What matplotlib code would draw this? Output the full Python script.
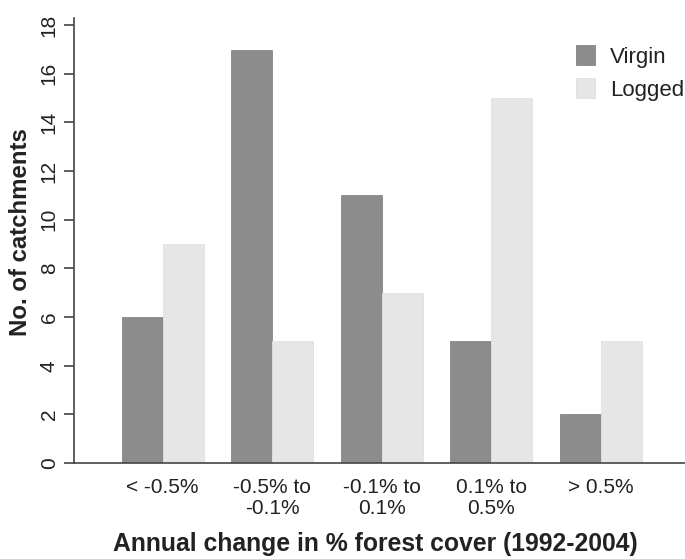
import matplotlib.pyplot as plt
import numpy as np

categories = ["< -0.5%", "-0.5% to\n-0.1%", "-0.1% to\n0.1%", "0.1% to\n0.5%", "> 0.5%"]
virgin = [6, 17, 11, 5, 2]
logged = [9, 5, 7, 15, 5]
y_ticks = [0, 2, 4, 6, 8, 10, 12, 14, 16, 18]

plt.rcParams["font.family"] = ["Liberation Sans", "DejaVu Sans"]
text_color = "#222222"

fig = plt.figure(figsize=(6.85, 5.59), dpi=100)
ax = fig.add_axes([0.108, 0.1717, 0.892, 0.7963])

x = np.arange(len(categories))
width = 0.375
ax.bar(x - width / 2, virgin, width, color="#8c8c8c", edgecolor="#858585", linewidth=0.6, label="Virgin")
ax.bar(x + width / 2, logged, width, color="#e6e6e6", edgecolor="#e0e0e0", linewidth=0.6, label="Logged")

ax.set_xlim(-0.81, 4.77)
ax.set_ylim(0, 18.3)
ax.set_yticks(y_ticks)
ax.set_xticks(x)
ax.set_xticklabels(categories, fontsize=15, color=text_color, linespacing=1.12)
ax.tick_params(axis="x", length=0, pad=11)
ax.tick_params(axis="y", length=7, width=1.2, color="#444444", labelsize=15,
               labelcolor=text_color, pad=4)
plt.setp(ax.get_yticklabels(), rotation=90, va="center")

for side in ("top", "right"):
    ax.spines[side].set_visible(False)
for side in ("left", "bottom"):
    ax.spines[side].set_color("#444444")
    ax.spines[side].set_linewidth(1.2)

ax.set_ylabel("No. of catchments", fontsize=17.3, fontweight="bold", color=text_color)
ax.yaxis.set_label_coords(-0.068, 0.518)
ax.set_xlabel("Annual change in % forest cover (1992-2004)", fontsize=17.8, fontweight="bold",
              color=text_color, labelpad=13)
ax.xaxis.set_label_coords(0.4926, -0.155)

ax.legend(loc="upper left", bbox_to_anchor=(576 / 685, 1 - 45 / 559), bbox_transform=fig.transFigure,
          frameon=False, fontsize=16, borderpad=0, borderaxespad=0,
          handlelength=0.86, handleheight=1.04, handletextpad=0.68, labelspacing=0.45,
          labelcolor=text_color)

fig.savefig("out.png", dpi=100)
